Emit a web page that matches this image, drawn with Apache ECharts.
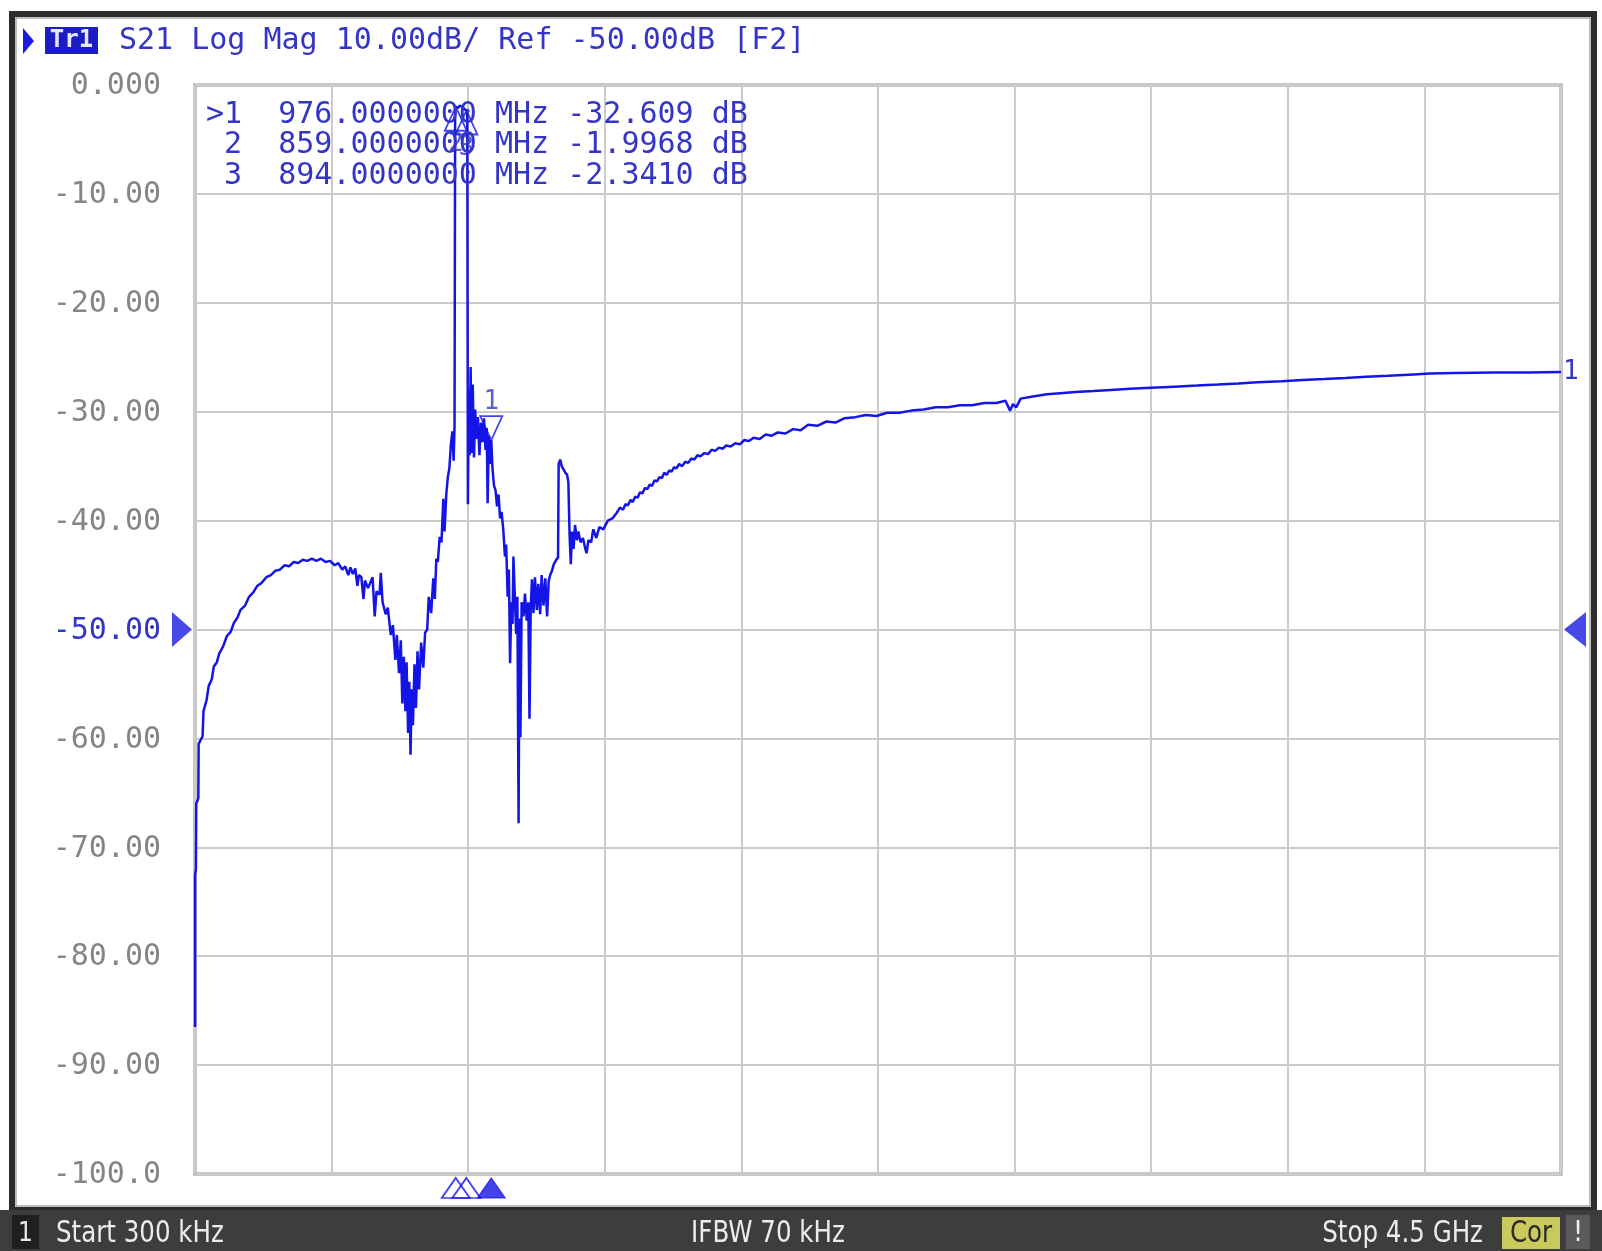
<!DOCTYPE html>
<html>
<head>
<meta charset="utf-8">
<script src="https://cdn.jsdelivr.net/npm/echarts@6/dist/echarts.min.js"></script>
<style>
html,body{margin:0;padding:0;background:#fff;}
#c{width:1602px;height:1251px;}
</style>
</head>
<body>
<div id="c"></div>
<script>
// ---- Data (frequency in MHz, S21 in dB) ----
const freqMHz = [
0.3,0.3,3,4,11,12,25,28,38,45,55,62,72,80,92,105,118,128,140,150,165,178,192,205,220,235,250,265,280,295,
310,325,340,355,370,385,400,415,430,445,460,472,485,495,505,512,520,528,535,540,548,555,560,570,575,585,592,598,608,612,
618,628,635,645,652,660,665,672,678,683,688,693,697,702,706,710,714,718,723,728,733,738,745,752,758,765,770,778,785,790,
795,800,806,812,818,822,828,833,838,843,848,852,855,857,859,866,873,880,887,894,897,899,902,905,908,911,915,919,923,927,
932,937,942,947,952,957,961,964,968,972,976,980,985,990,995,1000,1005,1010,1016,1021,1025,1030,1034,1038,1042,1046,1049,1053,1058,1062,
1066,1069,1072,1076,1082,1087,1093,1098,1102,1106,1110,1115,1120,1126,1131,1137,1142,1148,1154,1160,1165,1170,1176,1182,1190,1196,1198,1203,1208,1214,
1220,1226,1230,1234,1238,1242,1247,1252,1258,1263,1270,1278,1285,1290,1296,1305,1312,1322,1332,1345,1360,1375,1389,
1400,1410,1418,1426,1435,1442,1450,1458,1466,1474,1482,1490,1498,1506,1514,1522,1530,1538,1546,1554,
1562,1570,1578,1586,1595,1605,1615,1625,1635,1645,1655,1665,1678,1690,1702,1714,1726,1738,1750,1765,
1780,1795,1810,1825,1840,1860,1880,1900,1920,1945,1970,1995,2020,2050,2080,2110,2140,2175,2210,2245,
2280,2320,2360,2400,2440,2480,2520,2560,2600,2640,2670,2685,2695,2705,2720,2760,2806,2850,2900,2960,
3017,3080,3150,3227,3300,3370,3437,3500,3580,3648,3720,3790,3858,3930,4000,4068,4150,4279,4390,4500
];
const s21dB = [
-86.5,-72.5,-72.0,-66.0,-65.5,-60.5,-59.8,-57.5,-56.5,-55.2,-54.6,-53.4,-53.0,-52.2,-51.6,-50.6,-50.2,-49.4,-48.9,-48.2,-47.8,-47.0,-46.6,-46.0,-45.7,-45.2,-45.0,-44.6,-44.5,-44.1,
-44.2,-43.8,-43.9,-43.6,-43.7,-43.5,-43.7,-43.5,-43.8,-43.7,-44.1,-43.9,-44.5,-44.2,-45.0,-44.3,-44.9,-44.4,-46.0,-45.0,-45.2,-47.2,-45.5,-46.2,-46.3,-45.2,-48.8,-46.5,-46.8,-44.8,
-47.5,-48.6,-48.0,-50.5,-49.6,-52.8,-50.5,-54.0,-51.0,-56.8,-52.5,-57.5,-53.0,-59.5,-54.8,-61.5,-55.5,-58.8,-53.2,-57.2,-52.0,-55.5,-51.2,-53.5,-50.3,-50.0,-47.0,-48.5,-45.3,-47.2,
-43.5,-43.8,-41.5,-42.0,-38.0,-41.0,-37.5,-36.0,-35.2,-33.0,-31.8,-34.5,-31.3,-2.3,-1.9968,-2.1,-1.9,-2.0,-2.2,-2.341,-2.8,-38.5,-28.0,-34.0,-25.9,-33.8,-27.5,-34.2,-29.8,-32.5,
-30.5,-34.0,-31.0,-32.8,-30.6,-33.5,-31.5,-38.4,-32.2,-34.8,-32.609,-35.2,-36.8,-37.2,-38.7,-37.6,-39.8,-39.2,-41.0,-43.3,-42.2,-47.0,-44.5,-53.1,-47.5,-49.5,-43.3,-46.5,-50.4,-47.0,
-67.8,-49.0,-59.9,-47.5,-48.8,-46.7,-49.2,-47.5,-58.2,-48.0,-45.4,-48.5,-45.2,-48.2,-45.8,-48.6,-45.0,-47.8,-45.3,-48.8,-45.6,-45.0,-44.6,-44.0,-43.6,-43.4,-34.8,-34.4,-35.0,-34.9,
-35.6,-35.8,-36.5,-41.3,-44.0,-41.0,-42.6,-40.4,-41.8,-41.0,-42.0,-41.6,-42.5,-43.0,-41.8,-42.0,-40.8,-41.6,-40.6,-40.8,-40.0,-39.8,-39.3,
-38.8,-39.0,-38.5,-38.6,-38.1,-38.3,-37.8,-37.9,-37.4,-37.5,-37.0,-37.1,-36.7,-36.8,-36.3,-36.4,-36.0,-36.1,-35.6,-35.8,
-35.4,-35.5,-35.1,-35.2,-34.8,-35.0,-34.6,-34.7,-34.3,-34.4,-34.0,-34.1,-33.8,-33.9,-33.5,-33.6,-33.3,-33.4,-33.1,-33.2,
-32.9,-33.0,-32.6,-32.7,-32.4,-32.5,-32.1,-32.2,-31.9,-32.0,-31.6,-31.7,-31.2,-31.3,-30.9,-31.0,-30.6,-30.5,-30.3,-30.4,
-30.1,-30.1,-29.9,-29.8,-29.6,-29.6,-29.4,-29.4,-29.2,-29.2,-29.0,-29.9,-29.3,-29.6,-28.8,-28.6,-28.4,-28.3,-28.2,-28.1,
-28.0,-27.9,-27.8,-27.7,-27.6,-27.5,-27.4,-27.3,-27.2,-27.1,-27.0,-26.9,-26.8,-26.7,-26.6,-26.5,-26.45,-26.4,-26.4,-26.35
];
const markerIds = ['1', '2', '3'];
const markerFreqs = [976, 859, 894];
const markerDb = [-32.609, -1.9968, -2.3410];
const activeMarker = '1';
const yTickValues = [0, -10, -20, -30, -40, -50, -60, -70, -80, -90, -100];
const yTickLabels = ['0.000', '-10.00', '-20.00', '-30.00', '-40.00', '-50.00', '-60.00', '-70.00', '-80.00', '-90.00', '-100.0'];
const refLevel = -50;
const xStopMHz = 4500;
const headerText = 'S21 Log Mag 10.00dB/ Ref -50.00dB [F2]';
const statusTexts = ['Start 300 kHz', 'IFBW 70 kHz', 'Stop 4.5 GHz'];

// ---- Styles ----
const BLUE = '#1414e6';
const TXTBLUE = '#3434c6';
const MONO = '"DejaVu Sans Mono", monospace';
const NARROW = '"Liberation Sans Narrow", "DejaVu Sans Condensed", "Liberation Sans", sans-serif';

const traceData = freqMHz.map((f, i) => [f, s21dB[i]]);

// marker readout rows
const readout = markerIds.map((id, i) => {
  const num = (id === activeMarker ? '>' : ' ') + id;
  const f = markerFreqs[i].toFixed(7);
  const v = markerDb[i].toPrecision(5);
  return num + '  ' + f + ' MHz ' + v + ' dB';
});

const traceMarkers = markerIds.map((id, i) => {
  const low = markerDb[i] < -10;
  return {
    value: [markerFreqs[i], markerDb[i]],
    symbol: 'triangle',
    symbolRotate: low ? 180 : 0,
    symbolSize: [22, 24],
    symbolOffset: [0, low ? -12 : 12],
    itemStyle: { color: 'rgba(255,255,255,0)', borderColor: BLUE, borderWidth: 1.8 },
    label: {
      show: true, formatter: id, position: low ? 'top' : 'bottom', distance: 0,
      color: TXTBLUE, fontFamily: MONO, fontSize: 26
    }
  };
});

const axisMarkers = markerIds.map((id, i) => ({
  value: [markerFreqs[i], -100],
  itemStyle: id === activeMarker
    ? { color: BLUE, borderColor: BLUE, borderWidth: 1 }
    : { color: 'rgba(255,255,255,0)', borderColor: BLUE, borderWidth: 1.8 }
}));

const chart = echarts.init(document.getElementById('c'), null, { renderer: 'canvas' });

function statusText(txt, x, align) {
  return { type: 'text', x: x, y: 1234, scaleX: 0.88, scaleY: 1,
    style: { text: txt, x: 0, y: 0, fill: '#ececec', font: '31px ' + NARROW,
      align: align, verticalAlign: 'middle', textAlign: align, textVerticalAlign: 'middle' } };
}

const graphics = [
  // outer instrument frame
  { type: 'rect', shape: { x: 12, y: 14, width: 1582, height: 1196 },
    style: { fill: 'none', stroke: '#2c2c2c', lineWidth: 6 } },
  { type: 'rect', shape: { x: 16, y: 18, width: 1574, height: 1188 },
    style: { fill: 'none', stroke: '#a8a8a8', lineWidth: 1.5 } },
  // status bar
  { type: 'rect', shape: { x: 0, y: 1210, width: 1602, height: 41 }, style: { fill: '#3d3d3d' } },
  { type: 'rect', shape: { x: 12, y: 1215, width: 27, height: 34 }, style: { fill: '#1f1f1f' } },
  { type: 'text', style: { text: '1', x: 25.5, y: 1234, fill: '#e8e8e8', font: '26px ' + NARROW,
      align: 'center', verticalAlign: 'middle', textAlign: 'center', textVerticalAlign: 'middle' } },
  statusText(statusTexts[0], 56, 'left'),
  statusText(statusTexts[1], 768, 'center'),
  statusText(statusTexts[2], 1483, 'right'),
  { type: 'rect', shape: { x: 1502, y: 1217, width: 58, height: 32 }, style: { fill: '#c9c95c' } },
  { type: 'text', x: 1531, y: 1234, scaleX: 0.88,
    style: { text: 'Cor', x: 0, y: 0, fill: '#2a2a2a', font: '31px ' + NARROW,
      align: 'center', verticalAlign: 'middle', textAlign: 'center', textVerticalAlign: 'middle' } },
  { type: 'rect', shape: { x: 1566, y: 1215, width: 24, height: 34 }, style: { fill: '#5a5a5a' } },
  { type: 'text', style: { text: '!', x: 1578, y: 1234, fill: '#eeeeee', font: '28px ' + NARROW,
      align: 'center', verticalAlign: 'middle', textAlign: 'center', textVerticalAlign: 'middle' } },
  // header
  { type: 'polygon', shape: { points: [[23, 28], [34, 41], [23, 54]] }, style: { fill: '#1a1ae0' } },
  { type: 'rect', shape: { x: 45, y: 27, width: 53, height: 27 }, style: { fill: '#1c1cc4' } },
  { type: 'text', style: { text: 'Tr1', x: 71.5, y: 41, fill: '#e6e6ff', font: 'bold 24px ' + MONO,
      align: 'center', verticalAlign: 'middle', textAlign: 'center', textVerticalAlign: 'middle' } },
  { type: 'text', style: { text: headerText, x: 119, y: 41, fill: TXTBLUE, font: '30px ' + MONO,
      align: 'left', verticalAlign: 'middle', textAlign: 'left', textVerticalAlign: 'middle' } }
];
readout.forEach((row, i) => {
  graphics.push({ type: 'text', z: 10, style: { text: row, x: 206, y: 115 + i * 30.7, fill: TXTBLUE,
    font: '30px ' + MONO, align: 'left', verticalAlign: 'middle', textAlign: 'left', textVerticalAlign: 'middle' } });
});

chart.setOption({
  animation: false,
  backgroundColor: '#ffffff',
  grid: { left: 195, top: 85, width: 1366, height: 1089, show: true,
          borderColor: '#8e8e8e', borderWidth: 3, backgroundColor: 'transparent' },
  xAxis: {
    type: 'value', min: 0, max: xStopMHz, interval: 450,
    axisLine: { show: false }, axisTick: { show: false }, axisLabel: { show: false },
    splitLine: { show: true, lineStyle: { color: '#cbcbcb', width: 2 } }
  },
  yAxis: {
    type: 'value', min: -100, max: 0, interval: 10,
    axisLine: { show: false }, axisTick: { show: false },
    splitLine: { show: true, lineStyle: { color: '#cbcbcb', width: 2 } },
    axisLabel: {
      margin: 34, color: '#858585', fontFamily: MONO, fontSize: 30, padding: [3, 0, 0, 0],
      formatter: v => {
        const idx = yTickValues.indexOf(v);
        const t = idx >= 0 ? yTickLabels[idx] : '';
        return v === refLevel ? '{ref|' + t + '}' : t;
      },
      rich: { ref: { color: TXTBLUE, fontFamily: MONO, fontSize: 30 } }
    }
  },
  series: [
    {
      type: 'line', name: 'S21', data: traceData, showSymbol: false, symbol: 'none',
      lineStyle: { color: BLUE, width: 2.5 }, itemStyle: { color: BLUE }, z: 3,
      endLabel: { show: true, formatter: '1', color: TXTBLUE, fontFamily: MONO, fontSize: 26, distance: 2 }
    },
    {
      type: 'scatter', name: 'markers', data: traceMarkers, clip: false, z: 5
    },
    {
      type: 'scatter', name: 'axisMarkers', data: axisMarkers, clip: false, z: 5,
      symbol: 'triangle', symbolSize: [28, 20], symbolOffset: [0, 14]
    },
    {
      type: 'scatter', name: 'refLevel', clip: false, z: 5,
      data: [
        { value: [0, refLevel], symbol: 'triangle', symbolRotate: -90, symbolSize: [35, 20], symbolOffset: [-13, 0] },
        { value: [xStopMHz, refLevel], symbol: 'triangle', symbolRotate: 90, symbolSize: [35, 22], symbolOffset: [14, 0] }
      ],
      itemStyle: { color: '#1a1ae0' }
    }
  ],
  graphic: graphics
});
</script>
</body>
</html>
